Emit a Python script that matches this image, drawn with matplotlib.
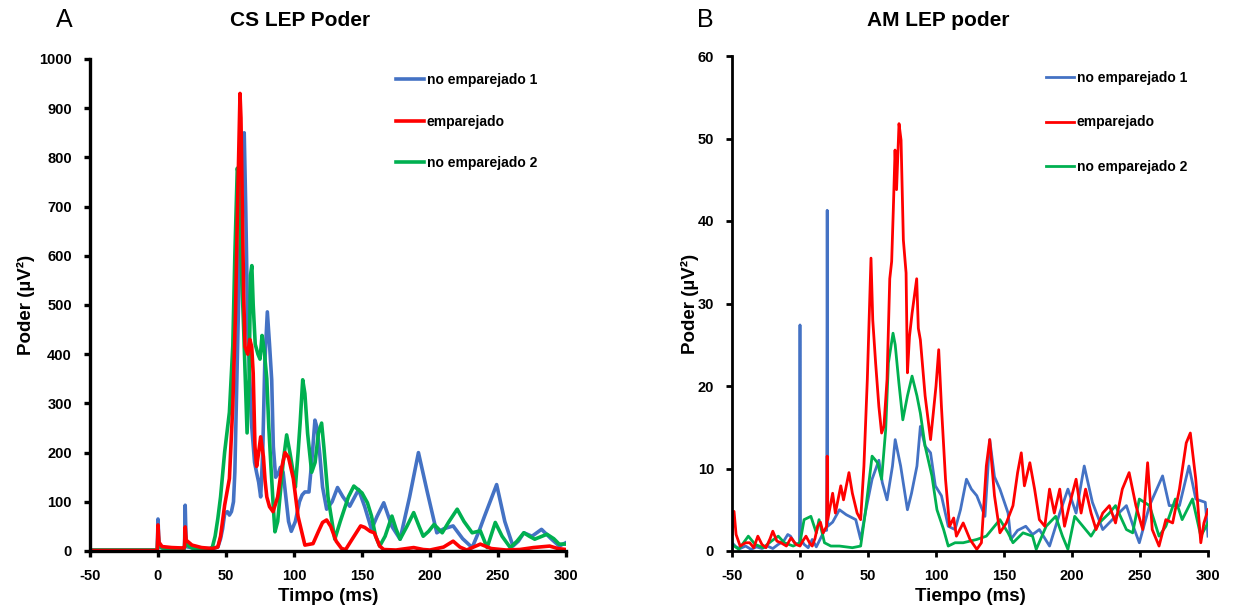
import numpy as np
import matplotlib
matplotlib.use("Agg")
import matplotlib.pyplot as plt

plt.rcParams['font.family'] = ['Liberation Sans', 'DejaVu Sans']
plt.rcParams['font.weight'] = 'bold'
plt.rcParams['axes.labelweight'] = 'bold'
plt.rcParams['axes.unicode_minus'] = False

# ---- CS LEP Poder (panel A) ----
t_cs_blue = [-50, -1, -0.5, 0, 0.7, 2, 10, 19, 19.5, 20, 20.7, 22, 30, 40, 44, 46, 47.5, 49, 51, 52.5,
             54, 55.5, 56.5, 58, 60, 62, 63.4, 64.5, 66, 67.5, 69, 71, 72.6, 74, 75.5, 77, 78.5, 80.4, 82, 83.6,
             84.8, 86.5, 88.5, 90, 92, 94, 96, 98, 101, 104, 106, 108, 111, 113, 115.4, 117, 119, 121, 124, 128,
             132, 136, 141, 147.5, 152, 157, 161, 166, 172, 178, 185, 191.5, 198, 205, 210, 217, 224, 231, 236, 240,
             249, 255, 261, 265, 269, 275, 282, 289, 295, 300]
cs_blue = [2, 2, 3, 65, 12, 7, 5, 5, 6, 93, 15, 8, 5, 5, 8, 25, 45, 75, 80, 73,
           80, 100, 160, 350, 600, 780, 850, 700, 450, 348, 250, 180, 158, 140, 110, 200, 380, 486, 420, 348,
           212, 150, 158, 170, 160, 110, 60, 40, 60, 100, 114, 120, 120, 180, 266, 250, 195, 130, 85, 100,
           129, 110, 91, 125, 90, 44, 70, 98, 50, 24, 110, 200, 120, 37, 45, 51, 25, 7, 40, 70,
           135, 60, 10, 20, 37, 30, 44, 25, 10, 17]

t_cs_red = [-50, -1, -0.5, 0, 0.7, 3, 10, 19, 19.5, 20, 20.7, 25, 32, 40, 44, 46, 49, 52.5, 55, 57,
            58.5, 60.3, 61, 62, 63, 64, 66, 67.5, 68.9, 70, 71.3, 72.5, 74, 75.5, 77.5, 78.7, 80, 82, 84.6, 88,
            91, 93.4, 96, 99.5, 103, 108, 114, 118, 121, 124, 127, 131, 135, 138, 143, 149, 152, 156, 159, 163,
            166, 175, 188, 195, 200, 210, 217, 222, 227, 237, 245, 256, 266, 276, 288, 294, 300]
cs_red = [1, 1, 2, 53, 18, 9, 7, 6, 8, 49, 22, 12, 7, 5, 8, 30, 93, 147, 296, 485,
          700, 930, 880, 700, 520, 415, 400, 430, 415, 361, 212, 172, 200, 232, 192, 144, 110, 90, 80, 110,
          170, 200, 190, 147, 70, 12, 15, 40, 58, 63, 50, 20, 5, 3, 25, 51, 48, 40, 37, 10,
          3, 2, 7, 3, 2, 8, 20, 8, 2, 14, 5, 2, 3, 7, 10, 5, 3]

t_cs_green = [-50, -1, -0.5, 0, 0.7, 3, 19, 19.5, 20, 20.7, 25, 38, 40, 42, 44, 46, 49, 52.5, 55, 56.5,
              58.3, 59.5, 61, 63, 65.5, 67, 68, 69, 70, 71.5, 73.5, 75, 76.5, 78, 80, 81.5, 83, 85, 86, 88,
              90, 92, 94.6, 97, 99.5, 101, 103, 104.5, 106.4, 108, 110, 113, 115.5, 118, 120.3, 122, 125, 130, 134, 140,
              144, 150, 154, 157, 160, 163, 167, 172, 175, 178, 183, 188, 192, 195, 199, 203, 209, 214, 220, 225,
              231, 237, 242, 248, 253, 259, 264, 269, 273, 277, 286, 291, 295, 300]
cs_green = [2, 2, 3, 36, 12, 6, 4, 6, 32, 14, 6, 4, 8, 30, 66, 110, 201, 282, 417, 600,
            778, 760, 600, 450, 240, 350, 560, 580, 500, 420, 400, 390, 438, 410, 350, 250, 174, 80, 39, 60,
            120, 180, 236, 200, 158, 130, 200, 260, 348, 320, 239, 160, 180, 240, 260, 210, 110, 24, 60, 110,
            132, 118, 98, 71, 30, 10, 30, 71, 45, 24, 50, 78, 50, 30, 40, 54, 37, 60, 85, 60,
            37, 41, 7, 58, 30, 7, 20, 37, 30, 24, 34, 25, 14, 14]

# ---- AM LEP poder (panel B) ----
t_am_blue = [-50, -47, -44, -40, -36, -32, -28, -24, -20, -16, -12, -9, -7, -4, -1.5, -0.4, 0, 0.4, 3, 6,
             9, 12, 15, 18, 19.6, 20, 20.4, 24, 29, 34, 41, 44.6, 48, 53, 58, 60.5, 64, 68, 70, 74,
             79, 82, 86, 88.5, 92, 96, 99.5, 104, 109, 114, 118, 122.4, 126, 130, 136, 139.5, 143, 147, 153, 155,
             160, 166, 171, 176, 183.5, 191, 197, 203, 209, 215, 222.6, 232, 240, 245, 249.5, 257, 266.6, 271.5, 279, 286,
             291, 298, 300]
am_blue = [1, 0.5, 0.3, 0.6, 0.2, 0.5, 0.3, 0.6, 0.3, 0.8, 1.2, 2, 1.8, 1, 0.8, 1, 27.4, 1.5, 0.8, 0.4,
           1.4, 0.5, 1.5, 2.5, 2.5, 41.3, 3, 3.5, 5, 4.4, 3.8, 1.4, 4.6, 8.7, 11, 8.3, 6.2, 10.3, 13.5, 10.3,
           5, 7, 10.3, 15.1, 12.7, 11.9, 7.9, 6.7, 3, 2.6, 5, 8.7, 7.5, 6.7, 4.2, 13.5, 9, 7.5, 4.6, 1.4,
           2.5, 3, 2, 2.6, 0.6, 4.6, 7.5, 4.6, 10.3, 5.9, 2.6, 4.2, 5.5, 3, 1, 5.5, 9.1, 5.5, 5.5, 10.3,
           6.3, 5.9, 1.8]

t_am_red = [-50, -48.5, -47, -44, -40, -37, -34, -31, -28, -25, -22, -20, -17, -14, -10, -6.6, -3, 0, 2, 4.4,
            7, 9, 11, 13, 15, 17, 19.6, 20, 20.4, 24, 26, 30, 32, 36, 38.5, 42, 44.6, 47, 49.5, 52.2,
            53.5, 55.6, 58, 60, 61.7, 64, 66, 67.4, 68.6, 69.9, 71, 72.8, 74.3, 76, 78, 79, 80.5, 82.4, 85.8, 87,
            88.5, 92, 96, 98, 100, 102, 104, 107, 110, 113, 115, 120, 125, 130, 133.4, 137, 139.5, 143, 147, 151.7,
            156.6, 160, 162.7, 165, 169, 172.5, 176, 180, 183.5, 187, 191, 194.5, 198, 203, 206.7, 210, 214, 217.7, 222.6, 227.5,
            232, 237, 242, 247, 252, 255.6, 259, 264, 269, 274, 279, 284, 287, 291, 294.7, 297, 300]
am_red = [2, 4.8, 2, 0.6, 1, 1, 0.4, 1.8, 0.8, 0.4, 1.5, 2.4, 1.2, 1, 0.6, 1.6, 0.8, 0.6, 1.2, 1.8,
          1, 0.6, 1.5, 3, 3.5, 2.2, 3, 11.5, 3.8, 7, 4.6, 7.9, 6.2, 9.5, 7, 4.6, 3.8, 10.3, 20.8, 35.5,
          28, 22.8, 17.5, 14.3, 15.1, 20.8, 33, 35.1, 41.3, 48.6, 43.8, 51.8, 49.8, 37.7, 33.7, 21.6, 26, 28.8, 33, 27,
          25.6, 18.8, 13.5, 16.7, 20, 24.4, 17.5, 8.7, 3, 4, 1.8, 3.4, 1.4, 0.2, 1, 10.3, 13.5, 6.7, 2.2, 3.4,
          5.5, 9.5, 11.9, 7.9, 10.7, 7.5, 3.8, 3, 7.5, 4.6, 7.5, 3, 5.5, 8.7, 4.6, 7.5, 4.6, 2.6, 4.6, 5.5,
          3.4, 7.5, 9.5, 5.5, 2.6, 10.7, 2.6, 0.6, 3.8, 3.4, 7.5, 13.1, 14.3, 8.7, 1, 3.4, 5]

t_am_green = [-50, -45, -38, -33, -27, -21, -16, -11.5, -5, 0, 3, 8, 12, 14, 18, 22.7, 29, 38.5, 44.6, 48,
              53, 57, 60, 63, 65, 68.4, 70, 72.7, 75.6, 79, 82.4, 86, 88.5, 92, 97, 100.7, 105.6, 109, 114, 120,
              130, 137, 147, 153, 156.6, 164, 171, 173.7, 181, 188, 193, 197, 202, 208, 214, 220, 227.5, 232, 240, 244.6,
              249.5, 257, 264, 269, 276, 281, 288.6, 294.7, 300]
am_green = [0.8, 0.2, 1.8, 0.8, 0.4, 1.2, 1.8, 1, 0.6, 1, 3.8, 4.2, 2.2, 3.8, 1, 0.6, 0.6, 0.4, 0.6, 4.6,
            11.5, 10.7, 8.7, 14.7, 22.8, 26.4, 25, 20.4, 15.9, 18.8, 21.2, 18.8, 16.7, 12.7, 9.1, 5, 2.6, 0.6, 1, 1,
            1.4, 1.8, 3.8, 2.2, 1, 2.2, 1.8, 0.2, 3, 4.2, 1.8, 0.2, 4.2, 3, 1.8, 3.4, 4.6, 5.5, 2.6, 2.2,
            6.3, 5.5, 1.8, 3, 6.3, 3.8, 6.3, 1.8, 3.4]

labels = ['no emparejado 1', 'emparejado', 'no emparejado 2']
c_blue, c_red, c_green = '#4472C4', '#FF0000', '#00B050'
xticks = [-50, 0, 50, 100, 150, 200, 250, 300]

fig = plt.figure(figsize=(12.37, 6.13), dpi=100)
W, H = 1237, 613


def make_axes(x0, x1, ytop, ybot):
    return fig.add_axes([x0 / W, 1 - ybot / H, (x1 - x0) / W, (ybot - ytop) / H])


def style(ax, ymax, ystep, lw_spine):
    for s in ['top', 'right']:
        ax.spines[s].set_visible(False)
    for s in ['left', 'bottom']:
        ax.spines[s].set_linewidth(lw_spine)
    ax.set_xlim(-50, 300)
    ax.set_ylim(0, ymax)
    ax.set_xticks(xticks)
    ax.set_yticks(np.arange(0, ymax + 1, ystep))
    ax.tick_params(direction='out', length=4, width=lw_spine, labelsize=10.5, pad=9)


# panel A
axA = make_axes(90, 566, 59, 551)
bA, = axA.plot(t_cs_blue, cs_blue, color=c_blue, lw=2.6)
gA, = axA.plot(t_cs_green, cs_green, color=c_green, lw=2.6)
rA, = axA.plot(t_cs_red, cs_red, color=c_red, lw=2.6)
style(axA, 1000, 100, 2.4)
axA.set_xlabel('Timpo (ms)', fontsize=13.5)
axA.set_ylabel('Poder (µV²)', fontsize=13.5)
axA.xaxis.set_label_coords(0.5, -0.075)
axA.yaxis.set_label_coords(-0.115, 0.5)
axA.legend([bA, rA, gA], labels, loc='upper left', bbox_to_anchor=(0.643, 0.972),
           frameon=False, fontsize=10, handlelength=2.0, handletextpad=0.2,
           labelspacing=2.0, borderpad=0, borderaxespad=0)

# panel B
axB = make_axes(732, 1208, 56, 551)
bB, = axB.plot(t_am_blue, am_blue, color=c_blue, lw=2.0)
gB, = axB.plot(t_am_green, am_green, color=c_green, lw=2.0)
rB, = axB.plot(t_am_red, am_red, color=c_red, lw=2.0)
style(axB, 60, 10, 2.0)
axB.set_xlabel('Tiempo (ms)', fontsize=13.5)
axB.set_ylabel('Poder (µV²)', fontsize=13.5)
axB.xaxis.set_label_coords(0.5, -0.075)
axB.yaxis.set_label_coords(-0.07, 0.5)
axB.legend([bB, rB, gB], labels, loc='upper left', bbox_to_anchor=(0.66, 0.97),
           frameon=False, fontsize=10, handlelength=2.0, handletextpad=0.2,
           labelspacing=2.2, borderpad=0, borderaxespad=0)

fig.text(300 / W, 1 - 20 / H, 'CS LEP Poder', fontsize=15, ha='center', va='center')
fig.text(938 / W, 1 - 20 / H, 'AM LEP poder', fontsize=15, ha='center', va='center')
fig.text(64 / W, 1 - 20 / H, 'A', fontsize=18, fontweight='normal', ha='center', va='center')
fig.text(705 / W, 1 - 20 / H, 'B', fontsize=18, fontweight='normal', ha='center', va='center')

fig.savefig('out.png', dpi=100)
